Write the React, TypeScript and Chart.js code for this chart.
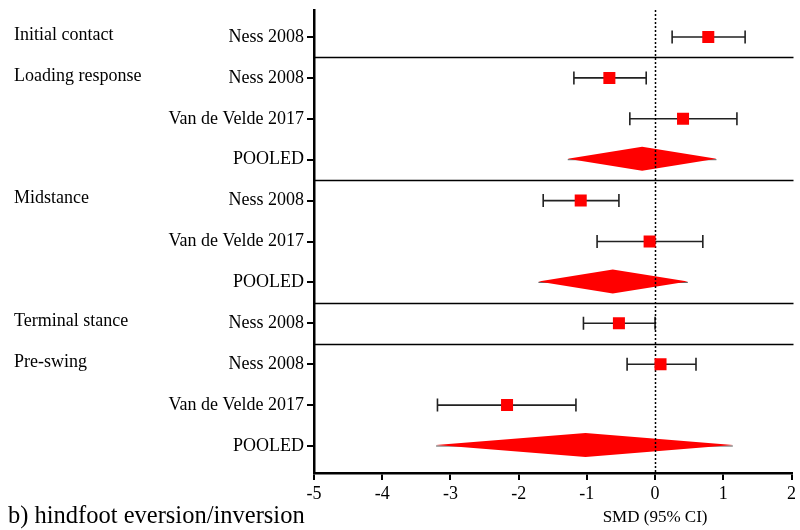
import React, { useEffect, useRef } from "react";
import { Chart, registerables } from "chart.js";
Chart.register(...registerables);

const rowLabels = [
  "Ness 2008", "Ness 2008", "Van de Velde 2017", "POOLED",
  "Ness 2008", "Van de Velde 2017", "POOLED",
  "Ness 2008", "Ness 2008", "Van de Velde 2017", "POOLED",
];
const groupNames = ["Initial contact", "Loading response", "Midstance", "Terminal stance", "Pre-swing"];
const groupStartRows = [1, 2, 5, 8, 9];
const separatorRows = [1.5, 4.5, 7.5, 8.5];

const studyRows = [1, 2, 3, 5, 6, 8, 9, 10];
const studySMD = [0.78, -0.67, 0.41, -1.09, -0.08, -0.53, 0.08, -2.17];
const studyLow = [0.25, -1.19, -0.37, -1.64, -0.85, -1.05, -0.41, -3.19];
const studyHigh = [1.32, -0.13, 1.2, -0.53, 0.7, 0.0, 0.6, -1.16];

const pooledRows = [4, 7, 11];
const pooledSMD = [-0.19, -0.62, -1.02];
const pooledLow = [-1.28, -1.71, -3.21];
const pooledHigh = [0.9, 0.48, 1.14];

const xMin = -5;
const xMax = 2;
const xTitle = "SMD (95% CI)";
const panelTitle = "b) hindfoot eversion/inversion";

const FONT = "'Liberation Serif', 'Times New Roman', serif";

const forestPlugin = {
  id: "forest",
  beforeDatasetsDraw(chart: any) {
    const { ctx, chartArea, scales } = chart;
    const xs = scales.x;
    const ys = scales.y;
    ctx.save();
    // separators
    ctx.strokeStyle = "#000";
    ctx.lineWidth = 1.5;
    separatorRows.forEach((r) => {
      const y = Math.round(ys.getPixelForValue(r)) + 0.5;
      ctx.beginPath();
      ctx.moveTo(chartArea.left, y);
      ctx.lineTo(chartArea.right + 2, y);
      ctx.stroke();
    });
    // error bars
    ctx.strokeStyle = "#222";
    ctx.lineWidth = 1.6;
    studyRows.forEach((r, i) => {
      const y = ys.getPixelForValue(r);
      const x1 = xs.getPixelForValue(studyLow[i]);
      const x2 = xs.getPixelForValue(studyHigh[i]);
      ctx.beginPath();
      ctx.moveTo(x1, y);
      ctx.lineTo(x2, y);
      ctx.moveTo(x1, y - 6.5);
      ctx.lineTo(x1, y + 6.5);
      ctx.moveTo(x2, y - 6.5);
      ctx.lineTo(x2, y + 6.5);
      ctx.stroke();
    });
    // pooled diamonds
    pooledRows.forEach((r, i) => {
      const y = ys.getPixelForValue(r) - 1;
      const xl = xs.getPixelForValue(pooledLow[i]);
      const xr = xs.getPixelForValue(pooledHigh[i]);
      const xc = xs.getPixelForValue(pooledSMD[i]);
      ctx.strokeStyle = "#555";
      ctx.lineWidth = 1;
      ctx.beginPath();
      ctx.moveTo(xl, y + 1);
      ctx.lineTo(xr, y + 1);
      ctx.stroke();
      ctx.fillStyle = "#ff0000";
      ctx.beginPath();
      ctx.moveTo(xl, y);
      ctx.lineTo(xc, y - 12);
      ctx.lineTo(xr, y);
      ctx.lineTo(xc, y + 12);
      ctx.closePath();
      ctx.fill();
    });
    // zero dotted line
    const x0 = Math.round(xs.getPixelForValue(0)) + 0.5;
    ctx.strokeStyle = "#000";
    ctx.lineWidth = 1.5;
    ctx.setLineDash([2, 2]);
    ctx.beginPath();
    ctx.moveTo(x0, chartArea.top);
    ctx.lineTo(x0, chartArea.bottom);
    ctx.stroke();
    ctx.restore();
  },
  afterDraw(chart: any) {
    const { ctx, scales } = chart;
    const xs = scales.x;
    const ys = scales.y;
    ctx.save();
    ctx.fillStyle = "#000";
    ctx.font = `18px ${FONT}`;
    ctx.textAlign = "left";
    ctx.textBaseline = "middle";
    groupNames.forEach((g, i) => {
      ctx.fillText(g, 14, ys.getPixelForValue(groupStartRows[i]) - 2);
    });
    ctx.textAlign = "center";
    ctx.font = `17px ${FONT}`;
    ctx.fillText(xTitle, xs.getPixelForValue(0), 518);
    ctx.textAlign = "left";
    ctx.font = `24.5px ${FONT}`;
    ctx.fillText(panelTitle, 8, 517);
    ctx.restore();
  },
};

export default function App() {
  const ref = useRef<HTMLCanvasElement | null>(null);
  useEffect(() => {
    if (!ref.current) return;
    const chart = new Chart(ref.current, {
      type: "scatter",
      data: {
        datasets: [
          {
            data: studyRows.map((r, i) => ({ x: studySMD[i], y: r })),
            pointStyle: "rect",
            pointRadius: 8.5,
            pointHoverRadius: 8.5,
            backgroundColor: "#ff0000",
            borderColor: "#ff0000",
            borderWidth: 0,
          },
        ],
      },
      options: {
        responsive: false,
        animation: false,
        events: [],
        layout: { padding: { top: 10, right: 5, left: 0, bottom: 0 } },
        plugins: { legend: { display: false }, tooltip: { enabled: false } },
        scales: {
          x: {
            type: "linear",
            min: xMin,
            max: xMax,
            afterFit: (s: any) => {
              s.height = 57;
            },
            ticks: { stepSize: 1, color: "#000", font: { family: FONT, size: 18 }, padding: 3 },
            grid: { drawOnChartArea: false, drawTicks: true, tickLength: 7, color: "#000", lineWidth: 2 },
            border: { display: true, color: "#000", width: 2.5 },
          },
          y: {
            type: "linear",
            reverse: true,
            min: 0.34,
            max: 11.66,
            afterFit: (s: any) => {
              s.width = 314;
              s.paddingTop = 0;
              s.paddingBottom = 0;
            },
            afterBuildTicks: (s: any) => {
              s.ticks = rowLabels.map((_, i) => ({ value: i + 1 }));
            },
            ticks: {
              color: "#000",
              font: { family: FONT, size: 18 },
              padding: 3,
              callback: (v: any) => rowLabels[Number(v) - 1] ?? "",
            },
            grid: { drawOnChartArea: false, drawTicks: true, tickLength: 7, color: "#000", lineWidth: 2 },
            border: { display: true, color: "#000", width: 2.5 },
          },
        },
      },
      plugins: [forestPlugin],
    });
    return () => chart.destroy();
  }, []);
  return (
    <div style={{ position: "absolute", left: 0, top: 0, width: 800, height: 530, background: "#fff" }}>
      <canvas ref={ref} width={800} height={530} />
    </div>
  );
}
